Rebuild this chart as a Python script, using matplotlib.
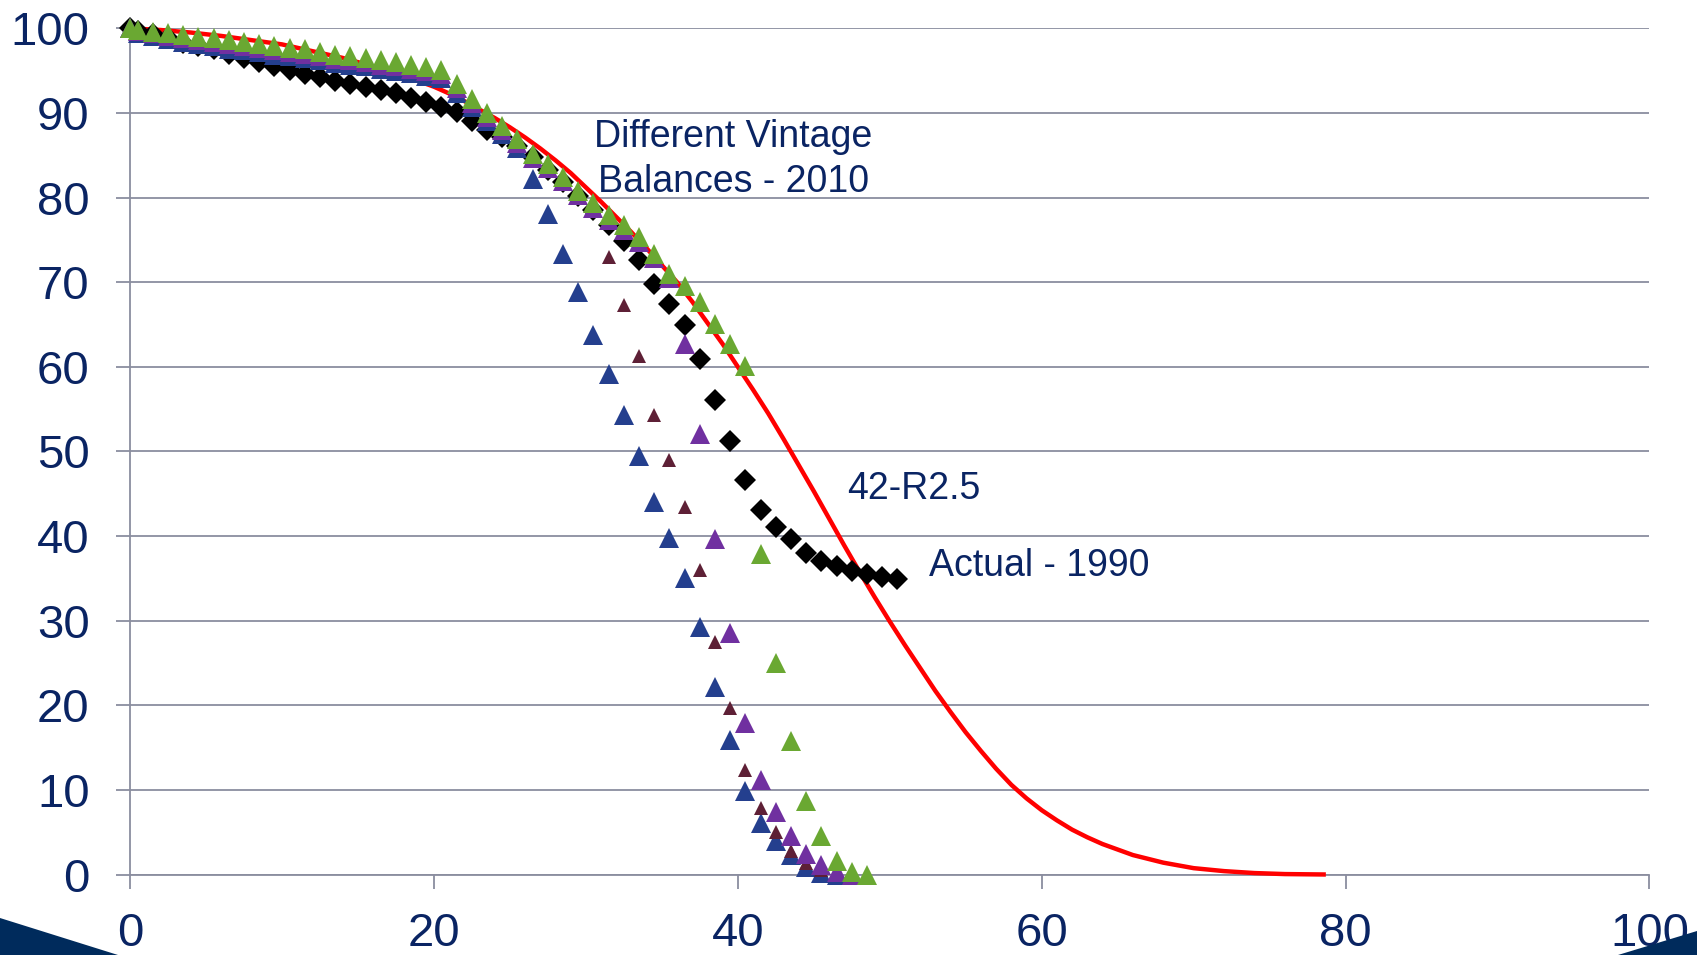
import matplotlib
matplotlib.use("Agg")
import matplotlib.pyplot as plt
from matplotlib.patches import Polygon

plt.rcParams['font.family'] = ['Liberation Sans', 'DejaVu Sans']

# ---------------- data ----------------
ages_actual = [0, 0.5, 1.5, 2.5, 3.5, 4.5, 5.5, 6.5, 7.5, 8.5, 9.5, 10.5, 11.5, 12.5,
               13.5, 14.5, 15.5, 16.5, 17.5, 18.5, 19.5, 20.5, 21.5, 22.5, 23.5, 24.5,
               25.5, 26.5, 27.5, 28.5, 29.5, 30.5, 31.5, 32.5, 33.5, 34.5, 35.5, 36.5,
               37.5, 38.5, 39.5, 40.5, 41.5, 42.5, 43.5, 44.5, 45.5, 46.5, 47.5, 48.5,
               49.5, 50.5]
actual_1990 = [100, 99.7, 99.3, 98.8, 98.3, 97.9, 97.5, 97.0, 96.5, 96.0, 95.6, 95.1,
               94.6, 94.2, 93.8, 93.4, 93.1, 92.7, 92.3, 91.8, 91.3, 90.7, 90.1, 89.0,
               88.0, 87.1, 86.1, 84.8, 83.3, 81.8, 80.2, 78.5, 76.8, 74.9, 72.6, 69.8,
               67.4, 64.9, 60.9, 56.1, 51.2, 46.6, 43.1, 41.1, 39.6, 38.0, 37.1, 36.4,
               35.9, 35.5, 35.1, 34.9]

ages_blue = ages_actual[:48]
vintage_blue = [100, 99.5, 99.1, 98.7, 98.4, 98.1, 97.9, 97.6, 97.4, 97.2, 96.9, 96.7,
                96.5, 96.2, 95.9, 95.7, 95.5, 95.2, 95.0, 94.7, 94.4, 94.1, 92.4, 90.7,
                89.0, 87.5, 85.9, 82.2, 78.1, 73.3, 68.8, 63.8, 59.1, 54.3, 49.5, 44.0,
                39.8, 35.0, 29.3, 22.2, 15.9, 9.9, 6.1, 3.9, 2.3, 0.9, 0.2, 0.0]

ages_maroon = ages_actual[:48]
vintage_maroon = [100, 99.6, 99.2, 98.9, 98.6, 98.3, 98.1, 97.8, 97.6, 97.4, 97.1, 96.9,
                  96.7, 96.4, 96.1, 95.9, 95.7, 95.4, 95.2, 94.9, 94.6, 94.3, 92.6, 90.9,
                  89.2, 87.7, 86.1, 84.4, 83.2, 81.6, 80.0, 78.5, 73.0, 67.3, 61.3, 54.3,
                  49.0, 43.4, 36.0, 27.5, 19.7, 12.4, 7.8, 5.0, 2.8, 1.4, 0.5, 0.0]

ages_purple = ages_actual[:49]
vintage_purple = [100, 99.7, 99.4, 99.1, 98.9, 98.6, 98.4, 98.1, 97.9, 97.7, 97.4, 97.2,
                  97.0, 96.7, 96.4, 96.2, 96.0, 95.7, 95.5, 95.2, 94.9, 94.6, 92.9, 91.2,
                  89.5, 88.0, 86.4, 84.7, 83.5, 81.9, 80.3, 78.8, 77.4, 76.2, 74.8, 72.8,
                  70.5, 62.7, 52.0, 39.6, 28.5, 17.9, 11.2, 7.4, 4.5, 2.4, 1.1, 0.3, 0.0]

ages_green = ages_actual[:50]
vintage_green = [100, 99.8, 99.6, 99.4, 99.2, 99.0, 98.8, 98.6, 98.4, 98.2, 97.9, 97.7,
                 97.5, 97.2, 96.9, 96.7, 96.5, 96.2, 96.0, 95.7, 95.4, 95.1, 93.4, 91.7,
                 90.0, 88.5, 86.9, 85.2, 84.0, 82.4, 80.8, 79.3, 77.9, 76.7, 75.3, 73.3,
                 71.0, 69.6, 67.6, 65.1, 62.7, 60.1, 37.9, 25.0, 15.8, 8.7, 4.5, 1.6,
                 0.3, 0.0]

ages_curve = [0, 2, 4, 6, 8, 10, 12, 14, 16, 18, 20, 21, 22, 23, 24, 25, 26, 27, 28, 29,
              30, 31, 32, 33, 34, 35, 36, 37, 38, 39, 40, 41, 42, 43, 44, 45, 46, 47, 48,
              49, 50, 51, 52, 53, 54, 55, 56, 57, 58, 59, 60, 61, 62, 63, 64, 66, 68, 70,
              72, 74, 76, 78.7]
iowa_42_r25 = [100, 99.8, 99.5, 99.1, 98.6, 98.1, 97.3, 96.5, 95.5, 94.4, 93.1, 92.3,
               91.4, 90.4, 89.4, 88.3, 87.1, 85.8, 84.4, 82.9, 81.2, 79.5, 77.7, 75.9,
               74.0, 72.0, 70.0, 67.7, 65.2, 62.7, 60.0, 57.3, 54.5, 51.5, 48.4, 45.3,
               42.1, 38.9, 35.8, 32.8, 29.9, 27.1, 24.4, 21.7, 19.2, 16.8, 14.6, 12.5,
               10.6, 9.0, 7.6, 6.4, 5.3, 4.4, 3.6, 2.3, 1.4, 0.75, 0.4, 0.17, 0.05, 0.0]

x_ticks = [0, 20, 40, 60, 80, 100]
y_ticks = [0, 10, 20, 30, 40, 50, 60, 70, 80, 90, 100]

# ---------------- style ----------------
NAVY = '#0a2463'
GRID = '#8a8d9f'
W, H = 1697, 955

fig = plt.figure(figsize=(W / 100, H / 100), dpi=100)
ax = fig.add_axes([130 / W, 1 - 874.5 / H, (1649.5 - 130) / W, (874.5 - 28.3) / H])

ax.plot(ages_curve, iowa_42_r25, color='#ff0000', lw=3.2, zorder=2,
        solid_capstyle='butt', solid_joinstyle='round', clip_on=False)
ax.plot(ages_actual, actual_1990, ls='none', marker='D', ms=10.8, color='#000000',
        mec='#000000', mew=0, zorder=3, clip_on=False)
ax.plot(ages_blue, vintage_blue, ls='none', marker='^', ms=14.5, color='#243f8e',
        mew=0, zorder=4, clip_on=False)
ax.plot(ages_maroon, vintage_maroon, ls='none', marker='^', ms=10.5, color='#5e2036',
        mew=0, zorder=5, clip_on=False)
ax.plot(ages_purple, vintage_purple, ls='none', marker='^', ms=14.5, color='#7030a0',
        mew=0, zorder=6, clip_on=False)
ax.plot(ages_green, vintage_green, ls='none', marker='^', ms=14.5, color='#6aa832',
        mew=0, zorder=7, clip_on=False)

ax.set_xlim(0, 100)
ax.set_ylim(0, 100)
ax.set_xticks(x_ticks)
ax.set_yticks(y_ticks)
ax.set_xticklabels([str(v) for v in x_ticks])
ax.set_yticklabels([str(v) for v in y_ticks])

ax.grid(axis='y', color=GRID, lw=1.3, zorder=1)
ax.grid(axis='x', visible=False)
ax.set_axisbelow(True)
for s in ['top', 'right']:
    ax.spines[s].set_visible(False)
for s in ['left', 'bottom']:
    ax.spines[s].set_color(GRID)
    ax.spines[s].set_linewidth(1.3)
    ax.spines[s].set_zorder(1)

ax.tick_params(axis='both', direction='out', length=10, width=1.3, color=GRID,
               labelsize=34, labelcolor=NAVY)
ax.tick_params(axis='y', pad=19)
ax.tick_params(axis='x', pad=17)

ax.text(39.7, 84.5, 'Different Vintage\nBalances - 2010', ha='center', va='center',
        fontsize=27, color=NAVY, linespacing=1.3, zorder=10)
ax.text(47.2, 45.5, '42-R2.5', ha='left', va='center', fontsize=27, color=NAVY,
        zorder=10)
ax.text(52.6, 36.4, 'Actual - 1990', ha='left', va='center', fontsize=27, color=NAVY,
        zorder=10)

# corner decorations
CORNER = '#002b5c'
fig.patches.append(Polygon([(0, 1 - 918 / H), (118 / W, 0), (0, 0)], closed=True,
                           transform=fig.transFigure, facecolor=CORNER,
                           edgecolor='none', zorder=20))
fig.patches.append(Polygon([(1618 / W, 0), (1, 1 - 931 / H), (1, 0)], closed=True,
                           transform=fig.transFigure, facecolor=CORNER,
                           edgecolor='none', zorder=20))

fig.savefig('out.png', dpi=100)
